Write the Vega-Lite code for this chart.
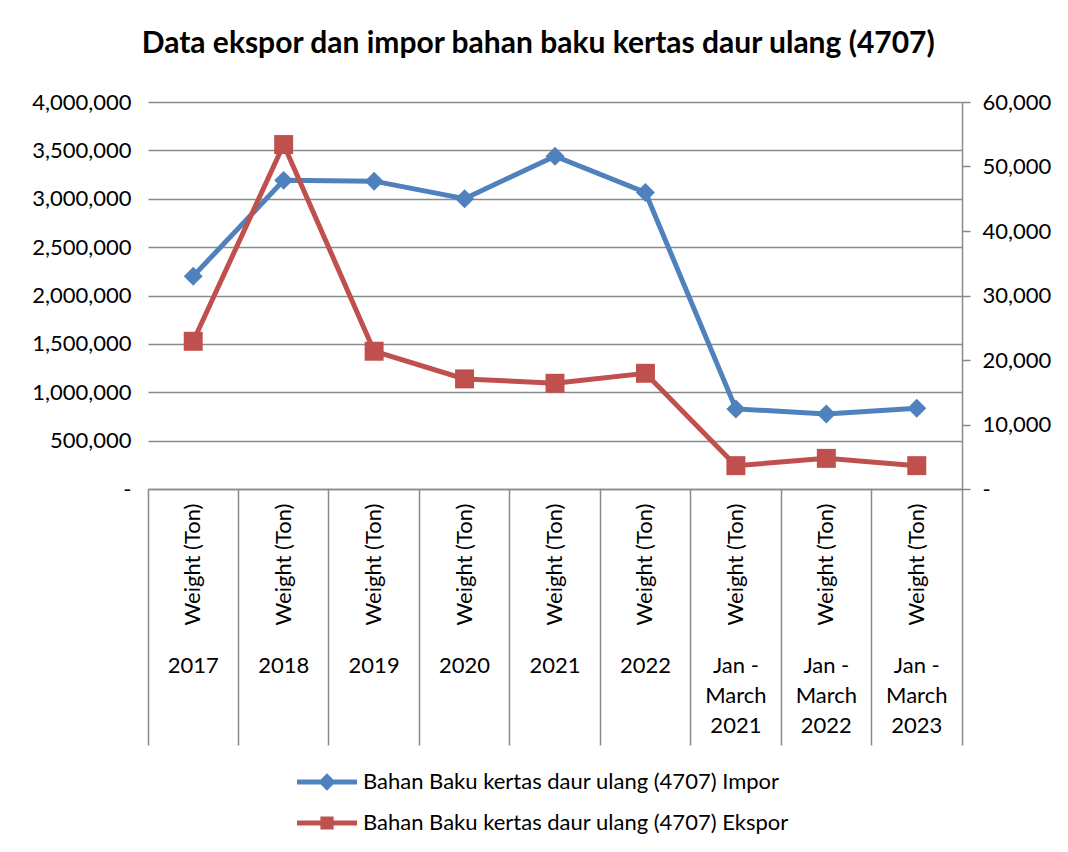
{
  "$schema": "https://vega.github.io/schema/vega-lite/v6.json",
  "width": 814,
  "height": 387,
  "autosize": {"type": "none"},
  "padding": {"left": 148, "top": 102, "right": 106, "bottom": 363},
  "background": "white",
  "title": {
    "text": "Data ekspor dan impor bahan baku kertas daur ulang (4707)",
    "font": "Lato", "fontSize": 30, "fontWeight": "bold", "color": "#000000",
    "anchor": "middle", "frame": "bounds", "baseline": "alphabetic", "offset": 8, "dx": -3
  },
  "config": {
    "font": "Lato",
    "view": {"stroke": null},
    "axis": {
      "labelFont": "Lato", "labelFontSize": 22, "labelColor": "#000000",
      "domainColor": "#8a8a8a", "tickColor": "#8a8a8a", "gridColor": "#8a8a8a",
      "domainWidth": 1.5, "tickWidth": 1.5, "gridWidth": 1.5, "gridOpacity": 1,
      "title": null
    }
  },
  "data": {
    "values": [
      {"period": "2017", "series": "Bahan Baku kertas daur ulang (4707) Impor", "value": 2200000},
      {"period": "2018", "series": "Bahan Baku kertas daur ulang (4707) Impor", "value": 3190000},
      {"period": "2019", "series": "Bahan Baku kertas daur ulang (4707) Impor", "value": 3182000},
      {"period": "2020", "series": "Bahan Baku kertas daur ulang (4707) Impor", "value": 3000000},
      {"period": "2021", "series": "Bahan Baku kertas daur ulang (4707) Impor", "value": 3440000},
      {"period": "2022", "series": "Bahan Baku kertas daur ulang (4707) Impor", "value": 3065000},
      {"period": "Jan -\nMarch\n2021", "series": "Bahan Baku kertas daur ulang (4707) Impor", "value": 828000},
      {"period": "Jan -\nMarch\n2022", "series": "Bahan Baku kertas daur ulang (4707) Impor", "value": 776000},
      {"period": "Jan -\nMarch\n2023", "series": "Bahan Baku kertas daur ulang (4707) Impor", "value": 834000},
      {"period": "2017", "series": "Bahan Baku kertas daur ulang (4707) Ekspor", "value": 22900},
      {"period": "2018", "series": "Bahan Baku kertas daur ulang (4707) Ekspor", "value": 53400},
      {"period": "2019", "series": "Bahan Baku kertas daur ulang (4707) Ekspor", "value": 21360},
      {"period": "2020", "series": "Bahan Baku kertas daur ulang (4707) Ekspor", "value": 17070},
      {"period": "2021", "series": "Bahan Baku kertas daur ulang (4707) Ekspor", "value": 16390},
      {"period": "2022", "series": "Bahan Baku kertas daur ulang (4707) Ekspor", "value": 17940},
      {"period": "Jan -\nMarch\n2021", "series": "Bahan Baku kertas daur ulang (4707) Ekspor", "value": 3620},
      {"period": "Jan -\nMarch\n2022", "series": "Bahan Baku kertas daur ulang (4707) Ekspor", "value": 4750},
      {"period": "Jan -\nMarch\n2023", "series": "Bahan Baku kertas daur ulang (4707) Ekspor", "value": 3620}
    ]
  },
  "resolve": {"scale": {"y": "independent"}, "axis": {"x": "independent", "y": "independent"}},
  "layer": [
    {
      "transform": [{"filter": "datum.series === 'Bahan Baku kertas daur ulang (4707) Impor'"}],
      "mark": {"type": "line", "strokeWidth": 5, "point": {"shape": "diamond", "size": 360, "filled": true, "opacity": 1}},
      "encoding": {
        "x": {
          "field": "period", "type": "nominal", "sort": null,
          "scale": {"type": "band", "paddingInner": 0, "paddingOuter": 0},
          "axis": {"orient": "bottom", "labelExpr": "'Weight (Ton)'", "labelAngle": -90, "labelPadding": 14, "ticks": false, "domain": true, "grid": false}
        },
        "y": {
          "field": "value", "type": "quantitative",
          "scale": {"domain": [0, 4000000]},
          "axis": {"orient": "left", "values": [0, 500000, 1000000, 1500000, 2000000, 2500000, 3000000, 3500000, 4000000], "labelExpr": "datum.value === 0 ? '-' : format(datum.value, ',')", "domain": false, "ticks": false, "grid": true, "labelPadding": 17}
        },
        "color": {
          "field": "series", "type": "nominal",
          "scale": {"domain": ["Bahan Baku kertas daur ulang (4707) Impor", "Bahan Baku kertas daur ulang (4707) Ekspor"], "range": ["#4F81BD", "#C0504D"]},
          "legend": {
            "orient": "none", "legendX": 149, "legendY": 650, "direction": "vertical", "title": null,
            "labelFont": "Lato", "labelFontSize": 22, "labelColor": "#000000", "labelLimit": 0,
            "symbolSize": 3600, "symbolStrokeWidth": 0, "rowPadding": -25, "labelOffset": 6,
            "encode": {
              "symbols": {
                "update": {
                  "shape": {"signal": "datum.value === 'Bahan Baku kertas daur ulang (4707) Impor' ? 'M-1,-0.08H1V0.08H-1Z M0,-0.29L0.29,0L0,0.29L-0.29,0Z' : 'M-1,-0.08H1V0.08H-1Z M-0.22,-0.22H0.22V0.22H-0.22Z'"},
                  "fill": {"signal": "datum.value === 'Bahan Baku kertas daur ulang (4707) Impor' ? '#4F81BD' : '#C0504D'"},
                  "stroke": {"value": "transparent"},
                  "opacity": {"value": 1}
                }
              }
            }
          }
        }
      }
    },
    {
      "transform": [{"filter": "datum.series === 'Bahan Baku kertas daur ulang (4707) Ekspor'"}],
      "mark": {"type": "line", "strokeWidth": 5, "point": {"shape": "square", "size": 360, "filled": true, "opacity": 1}},
      "encoding": {
        "x": {
          "field": "period", "type": "nominal", "sort": null,
          "scale": {"type": "band", "paddingInner": 0, "paddingOuter": 0},
          "axis": {"orient": "bottom", "labelExpr": "split(datum.label, '\\n')", "labelAngle": 0, "ticks": true, "tickSize": 256, "bandPosition": 1, "tickExtra": true, "labelPadding": -90, "labelLineHeight": 30, "labelBaseline": "top", "domain": false, "grid": false}
        },
        "y": {
          "field": "value", "type": "quantitative",
          "scale": {"domain": [0, 60000]},
          "axis": {"orient": "right", "values": [0, 10000, 20000, 30000, 40000, 50000, 60000], "labelExpr": "datum.value === 0 ? '-' : format(datum.value, ',')", "domain": true, "ticks": true, "tickSize": 8, "grid": false, "labelPadding": 12}
        },
        "color": {
          "field": "series", "type": "nominal",
          "scale": {"domain": ["Bahan Baku kertas daur ulang (4707) Impor", "Bahan Baku kertas daur ulang (4707) Ekspor"], "range": ["#4F81BD", "#C0504D"]},
          "legend": {
            "orient": "none", "legendX": 149, "legendY": 650, "direction": "vertical", "title": null,
            "labelFont": "Lato", "labelFontSize": 22, "labelColor": "#000000", "labelLimit": 0,
            "symbolSize": 3600, "symbolStrokeWidth": 0, "rowPadding": -25, "labelOffset": 6,
            "encode": {
              "symbols": {
                "update": {
                  "shape": {"signal": "datum.value === 'Bahan Baku kertas daur ulang (4707) Impor' ? 'M-1,-0.08H1V0.08H-1Z M0,-0.29L0.29,0L0,0.29L-0.29,0Z' : 'M-1,-0.08H1V0.08H-1Z M-0.22,-0.22H0.22V0.22H-0.22Z'"},
                  "fill": {"signal": "datum.value === 'Bahan Baku kertas daur ulang (4707) Impor' ? '#4F81BD' : '#C0504D'"},
                  "stroke": {"value": "transparent"},
                  "opacity": {"value": 1}
                }
              }
            }
          }
        }
      }
    }
  ]
}
